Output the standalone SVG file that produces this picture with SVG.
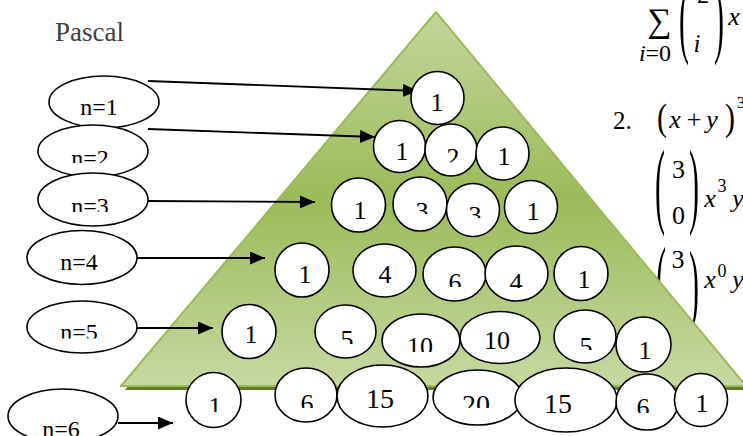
<svg xmlns="http://www.w3.org/2000/svg" width="743" height="436" viewBox="0 0 743 436">
<style>
.lbl{fill:#fff;stroke:#000;stroke-width:1.6}
.nd{fill:#fff;stroke:#000;stroke-width:1.6}
.conn{stroke:#000;stroke-width:1.8;fill:none;marker-end:url(#ah)}
</style>
<defs>
<marker id="ah" markerUnits="userSpaceOnUse" markerWidth="15" markerHeight="13" refX="15" refY="6.5" orient="auto">
<path d="M0,0 L15,6.5 L0,13 z" fill="#000"/>
</marker>
<linearGradient id="tg" x1="0" y1="12" x2="0" y2="386" gradientUnits="userSpaceOnUse">
<stop offset="0" stop-color="#c3d69b"/>
<stop offset="0.5" stop-color="#9bbb59"/>
<stop offset="1" stop-color="#c6d9a2"/>
</linearGradient>
<clipPath id="cn2"><rect x="0" y="0" width="200" height="163"/></clipPath>
<clipPath id="cn3"><rect x="0" y="0" width="200" height="212"/></clipPath>
<clipPath id="cn5"><rect x="0" y="0" width="200" height="338.5"/></clipPath>
<clipPath id="c22"><rect x="0" y="0" width="743" height="162.5"/></clipPath>
<clipPath id="c32"><rect x="0" y="0" width="743" height="214"/></clipPath>
<clipPath id="c33"><rect x="0" y="0" width="743" height="218"/></clipPath>
<clipPath id="c43"><rect x="0" y="0" width="743" height="287"/></clipPath>
<clipPath id="c44"><rect x="0" y="0" width="743" height="288"/></clipPath>
<clipPath id="c52"><rect x="0" y="0" width="743" height="344"/></clipPath>
<clipPath id="c53"><rect x="0" y="0" width="743" height="352"/></clipPath>
<clipPath id="c55"><rect x="0" y="0" width="743" height="350"/></clipPath>
<clipPath id="c61"><rect x="0" y="0" width="743" height="412"/></clipPath>
<clipPath id="c62"><rect x="0" y="0" width="743" height="408"/></clipPath>
<clipPath id="c64"><rect x="0" y="0" width="743" height="408"/></clipPath>
<clipPath id="c66"><rect x="0" y="0" width="743" height="413"/></clipPath>
</defs>
<rect width="743" height="436" fill="#fff"/>

<text x="55" y="41" font-size="27" fill="#3f3f3f" font-family="'Liberation Serif'">Pascal</text>

<g id="math">
<text x="659" y="32" font-size="34" text-anchor="middle" font-family="'Liberation Serif'">∑</text>
<text x="655" y="61" font-size="24" text-anchor="middle" font-family="'Liberation Serif'"><tspan font-style="italic">i</tspan>=0</text>
<text x="0" y="7.7" font-size="30" text-anchor="middle" font-family="'Liberation Serif'" transform="translate(684,24.5) scale(1,2.87)">(</text>
<text x="0" y="7.7" font-size="30" text-anchor="middle" font-family="'Liberation Serif'" transform="translate(719,24.5) scale(1,2.87)">)</text>
<text x="697" y="52" font-size="25" text-anchor="middle" font-style="italic" font-family="'Liberation Serif'">i</text>
<text x="703" y="3" font-size="24" text-anchor="middle" font-family="'Liberation Serif'">2</text>
<text x="734" y="25" font-size="26" text-anchor="middle" font-style="italic" font-family="'Liberation Serif'">x</text>

<text x="613" y="129" font-size="25" font-family="'Liberation Serif'">2.</text>
<text x="0" y="7.7" font-size="30" text-anchor="middle" font-family="'Liberation Serif'" transform="translate(662,121) scale(1,1.23)">(</text>
<text x="675" y="128" font-size="26" text-anchor="middle" font-style="italic" font-family="'Liberation Serif'">x</text>
<text x="694" y="128" font-size="26" text-anchor="middle" font-family="'Liberation Serif'">+</text>
<text x="712" y="128" font-size="26" text-anchor="middle" font-style="italic" font-family="'Liberation Serif'">y</text>
<text x="0" y="7.7" font-size="30" text-anchor="middle" font-family="'Liberation Serif'" transform="translate(730,121) scale(1,1.23)">)</text>
<text x="741" y="108" font-size="17" text-anchor="middle" font-family="'Liberation Serif'">3</text>

<text x="0" y="7.7" font-size="30" text-anchor="middle" font-family="'Liberation Serif'" transform="translate(660,191.5) scale(1,3.18)">(</text>
<text x="678.5" y="178" font-size="26" text-anchor="middle" font-family="'Liberation Serif'">3</text>
<text x="678.5" y="224" font-size="26" text-anchor="middle" font-family="'Liberation Serif'">0</text>
<text x="0" y="7.7" font-size="30" text-anchor="middle" font-family="'Liberation Serif'" transform="translate(694,191.5) scale(1,3.18)">)</text>
<text x="710" y="207" font-size="26" text-anchor="middle" font-style="italic" font-family="'Liberation Serif'">x</text>
<text x="722" y="192" font-size="18" text-anchor="middle" font-family="'Liberation Serif'">3</text>
<text x="738" y="207" font-size="26" text-anchor="middle" font-style="italic" font-family="'Liberation Serif'">y</text>

<text x="0" y="7.7" font-size="30" text-anchor="middle" font-family="'Liberation Serif'" transform="translate(661,289) scale(1,3.14)">(</text>
<text x="678" y="268" font-size="26" text-anchor="middle" font-family="'Liberation Serif'">3</text>
<text x="0" y="7.7" font-size="30" text-anchor="middle" font-family="'Liberation Serif'" transform="translate(694,291) scale(1,3.0)">)</text>
<text x="710" y="288" font-size="26" text-anchor="middle" font-style="italic" font-family="'Liberation Serif'">x</text>
<text x="722" y="277" font-size="18" text-anchor="middle" font-family="'Liberation Serif'">0</text>
<text x="738" y="288" font-size="26" text-anchor="middle" font-style="italic" font-family="'Liberation Serif'">y</text>
</g>

<g id="triangle">
<polygon points="439,16 125,390 748,390" fill="#5f7b30"/>
<polygon points="436,12 121,386 746,386" fill="url(#tg)" stroke="#9bbb59" stroke-width="2" stroke-linejoin="round"/>
</g>

<g id="n1"><ellipse class="lbl" cx="104" cy="102" rx="55" ry="26"/><text x="99" y="115" font-size="24" text-anchor="middle" font-family="'Liberation Serif'">n=1</text></g>
<g id="n2"><ellipse class="lbl" cx="93" cy="151" rx="55" ry="26"/><text x="90" y="166" font-size="24" text-anchor="middle" font-family="'Liberation Serif'" clip-path="url(#cn2)">n=2</text></g>
<g id="n3"><ellipse class="lbl" cx="93" cy="199.5" rx="55" ry="26.5"/><text x="90" y="214" font-size="24" text-anchor="middle" font-family="'Liberation Serif'" clip-path="url(#cn3)">n=3</text></g>
<g id="n4"><ellipse class="lbl" cx="82" cy="257.5" rx="55" ry="27"/><text x="79" y="270" font-size="24" text-anchor="middle" font-family="'Liberation Serif'">n=4</text></g>
<g id="n5"><ellipse class="lbl" cx="82" cy="327" rx="55" ry="26"/><text x="79" y="340" font-size="24" text-anchor="middle" font-family="'Liberation Serif'" clip-path="url(#cn5)">n=5</text></g>
<g id="n6"><ellipse class="lbl" cx="63" cy="416" rx="55" ry="27"/><text x="61" y="437" font-size="24" text-anchor="middle" font-family="'Liberation Serif'">n=6</text></g>

<g id="connectors">
<line class="conn" x1="148" y1="81" x2="418" y2="91"/>
<line class="conn" x1="148" y1="129" x2="375" y2="137"/>
<line class="conn" x1="148" y1="201" x2="315" y2="202"/>
<line class="conn" x1="137" y1="258" x2="265" y2="258"/>
<line class="conn" x1="137" y1="328" x2="213" y2="328"/>
<line class="conn" x1="118" y1="423" x2="173" y2="423"/>
</g>

<g id="r1c1"><circle class="nd" cx="437.5" cy="98" r="26.5"/><text x="437" y="111" font-size="26" text-anchor="middle" font-family="'Liberation Serif'">1</text></g>

<g id="r2c1"><circle class="nd" cx="399.5" cy="146.5" r="26"/><text x="402" y="160" font-size="26" text-anchor="middle" font-family="'Liberation Serif'">1</text></g>
<g id="r2c2"><circle class="nd" cx="451" cy="150" r="26"/><text x="453" y="166" font-size="26" text-anchor="middle" font-family="'Liberation Serif'" clip-path="url(#c22)">2</text></g>
<g id="r2c3"><circle class="nd" cx="502.5" cy="153.5" r="26.5"/><text x="504" y="165" font-size="26" text-anchor="middle" font-family="'Liberation Serif'">1</text></g>

<g id="r3c1"><circle class="nd" cx="358.5" cy="205" r="27"/><text x="360" y="219" font-size="26" text-anchor="middle" font-family="'Liberation Serif'">1</text></g>
<g id="r3c2"><circle class="nd" cx="420" cy="204" r="27"/><text x="422" y="220" font-size="26" text-anchor="middle" font-family="'Liberation Serif'" clip-path="url(#c32)">3</text></g>
<g id="r3c3"><circle class="nd" cx="473" cy="210" r="26.5"/><text x="475" y="224" font-size="26" text-anchor="middle" font-family="'Liberation Serif'" clip-path="url(#c33)">3</text></g>
<g id="r3c4"><circle class="nd" cx="531" cy="207" r="26.5"/><text x="533" y="220" font-size="26" text-anchor="middle" font-family="'Liberation Serif'">1</text></g>

<g id="r4c1"><circle class="nd" cx="302" cy="270" r="27"/><text x="305" y="283" font-size="26" text-anchor="middle" font-family="'Liberation Serif'">1</text></g>
<g id="r4c2"><ellipse class="nd" cx="384.5" cy="270.5" rx="31.5" ry="26.5"/><text x="385" y="283" font-size="26" text-anchor="middle" font-family="'Liberation Serif'">4</text></g>
<g id="r4c3"><ellipse class="nd" cx="454.5" cy="274" rx="31.5" ry="27"/><text x="455" y="291" font-size="26" text-anchor="middle" font-family="'Liberation Serif'" clip-path="url(#c43)">6</text></g>
<g id="r4c4"><ellipse class="nd" cx="516.5" cy="273.5" rx="31.5" ry="27.5"/><text x="516" y="291" font-size="26" text-anchor="middle" font-family="'Liberation Serif'" clip-path="url(#c44)">4</text></g>
<g id="r4c5"><circle class="nd" cx="581" cy="273.5" r="27"/><text x="584" y="288" font-size="26" text-anchor="middle" font-family="'Liberation Serif'">1</text></g>

<g id="r5c1"><circle class="nd" cx="249" cy="331.5" r="27"/><text x="251" y="343" font-size="26" text-anchor="middle" font-family="'Liberation Serif'">1</text></g>
<g id="r5c2"><ellipse class="nd" cx="345.5" cy="331.5" rx="30.5" ry="26.5"/><text x="347" y="348" font-size="26" text-anchor="middle" font-family="'Liberation Serif'" clip-path="url(#c52)">5</text></g>
<g id="r5c3"><ellipse class="nd" cx="421" cy="340.5" rx="39" ry="26.5"/><text x="420" y="355" font-size="26" text-anchor="middle" font-family="'Liberation Serif'" clip-path="url(#c53)">10</text></g>
<g id="r5c4"><ellipse class="nd" cx="500" cy="337.5" rx="40" ry="26"/><text x="497" y="349" font-size="26" text-anchor="middle" font-family="'Liberation Serif'">10</text></g>
<g id="r5c5"><ellipse class="nd" cx="585" cy="336.5" rx="31" ry="26.5"/><text x="586" y="355" font-size="26" text-anchor="middle" font-family="'Liberation Serif'" clip-path="url(#c55)">5</text></g>
<g id="r5c6"><circle class="nd" cx="643.5" cy="344.5" r="27.5"/><text x="645" y="359" font-size="26" text-anchor="middle" font-family="'Liberation Serif'">1</text></g>

<g id="r6c1"><circle class="nd" cx="213.5" cy="400" r="27.5"/><text x="215" y="415" font-size="26" text-anchor="middle" font-family="'Liberation Serif'" clip-path="url(#c61)">1</text></g>
<g id="r6c2"><ellipse class="nd" cx="306" cy="395" rx="31" ry="27"/><text x="307" y="412" font-size="26" text-anchor="middle" font-family="'Liberation Serif'" clip-path="url(#c62)">6</text></g>
<g id="r6c3"><ellipse class="nd" cx="382.5" cy="396" rx="45.5" ry="31"/><text x="380" y="408" font-size="28" text-anchor="middle" font-family="'Liberation Serif'">15</text></g>
<g id="r6c4"><ellipse class="nd" cx="477.5" cy="397.5" rx="44.5" ry="27.5"/><text x="476" y="414" font-size="28" text-anchor="middle" font-family="'Liberation Serif'" clip-path="url(#c64)">20</text></g>
<g id="r6c5"><ellipse class="nd" cx="566" cy="400" rx="51" ry="32"/><text x="558" y="413" font-size="28" text-anchor="middle" font-family="'Liberation Serif'">15</text></g>
<g id="r6c6"><ellipse class="nd" cx="647" cy="402" rx="31" ry="28"/><text x="643" y="416" font-size="26" text-anchor="middle" font-family="'Liberation Serif'" clip-path="url(#c66)">6</text></g>
<g id="r6c7"><circle class="nd" cx="701" cy="400" r="26.5"/><text x="702" y="412" font-size="26" text-anchor="middle" font-family="'Liberation Serif'">1</text></g>
</svg>
